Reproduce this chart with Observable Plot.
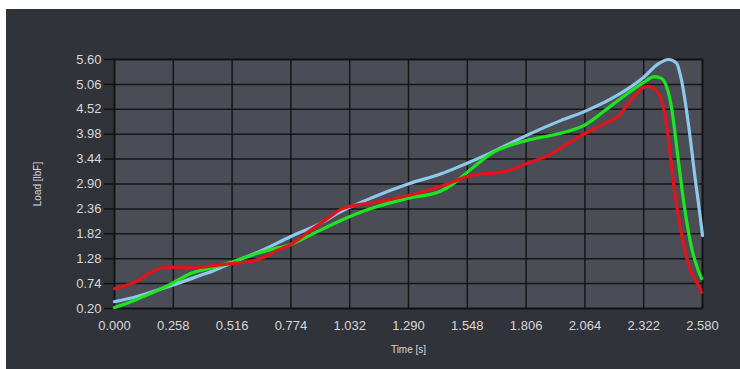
<!DOCTYPE html>
<html>
<head>
<meta charset="utf-8">
<script src="https://cdn.jsdelivr.net/npm/d3@7"></script>
<script src="https://cdn.jsdelivr.net/npm/@observablehq/plot@0.6"></script>
<style>
  html, body { margin: 0; padding: 0; background: #ffffff; }
  #wrap { position: relative; width: 740px; height: 369px; overflow: hidden; }
  #panel { position: absolute; left: 6px; top: 9px; width: 734px; height: 360px; background: #30333a; }
  #chart { position: absolute; left: 0; top: 0; }
</style>
</head>
<body>
<div id="wrap"><div id="panel"></div><div id="chart"></div></div>
<script>
// Tick values
const xTicks = [0, 0.258, 0.516, 0.774, 1.032, 1.290, 1.548, 1.806, 2.064, 2.322, 2.580];
const yTicks = [0.20, 0.74, 1.28, 1.82, 2.36, 2.90, 3.44, 3.98, 4.52, 5.06, 5.60];

// Series: time [s] and load [lbF]
const blueT = [0, 0.084, 0.251, 0.378, 0.435, 0.510, 0.642, 0.774, 0.905, 0.993, 1.138, 1.288, 1.433, 1.547, 1.653, 1.806, 1.960, 2.061, 2.180, 2.321, 2.387, 2.431, 2.466, 2.488, 2.518, 2.545, 2.576, 2.580];
const blueV = [0.35, 0.44, 0.70, 0.92, 1.02, 1.18, 1.45, 1.76, 2.05, 2.30, 2.62, 2.90, 3.12, 3.35, 3.58, 3.95, 4.28, 4.47, 4.75, 5.21, 5.51, 5.60, 5.52, 5.15, 4.21, 3.13, 1.95, 1.78];

const greenT = [0, 0.084, 0.251, 0.334, 0.435, 0.510, 0.567, 0.672, 0.774, 0.883, 0.993, 1.138, 1.288, 1.433, 1.490, 1.547, 1.653, 1.806, 1.947, 2.061, 2.180, 2.321, 2.369, 2.400, 2.444, 2.474, 2.501, 2.532, 2.562, 2.576];
const greenV = [0.22, 0.37, 0.74, 0.96, 1.09, 1.20, 1.30, 1.46, 1.59, 1.85, 2.11, 2.39, 2.59, 2.75, 2.92, 3.15, 3.56, 3.84, 3.99, 4.17, 4.60, 5.10, 5.23, 5.19, 4.56, 3.41, 2.39, 1.52, 1.02, 0.85];

const redT = [0, 0.084, 0.202, 0.251, 0.365, 0.435, 0.523, 0.598, 0.672, 0.708, 0.774, 0.861, 0.949, 0.993, 1.138, 1.288, 1.433, 1.547, 1.727, 1.806, 1.903, 1.960, 2.061, 2.149, 2.215, 2.255, 2.321, 2.343, 2.387, 2.409, 2.431, 2.457, 2.488, 2.523, 2.562, 2.576];
const redV = [0.63, 0.76, 1.07, 1.09, 1.09, 1.13, 1.18, 1.22, 1.35, 1.45, 1.59, 1.90, 2.20, 2.35, 2.50, 2.65, 2.85, 3.06, 3.19, 3.34, 3.52, 3.69, 3.99, 4.21, 4.39, 4.65, 4.99, 5.02, 4.86, 4.56, 3.84, 2.76, 1.82, 1.09, 0.70, 0.55];

const toRows = (T, V) => T.map((t, i) => ({t, v: V[i]}));
const blue = toRows(blueT, blueV);
const green = toRows(greenT, greenV);
const red = toRows(redT, redV);

const lineOpts = {x: "t", y: "v", curve: "monotone-x", strokeWidth: 3.2, strokeLinejoin: "round", strokeLinecap: "round"};

const chart = Plot.plot({
  width: 740,
  height: 369,
  marginLeft: 114,
  marginRight: 38,
  marginTop: 59,
  marginBottom: 61,
  style: {background: "transparent", fontFamily: "'Liberation Sans', Arial, sans-serif", overflow: "visible"},
  x: {domain: [0, 2.58]},
  y: {domain: [0.2, 5.6]},
  marks: [
    Plot.frame({fill: "#4a4d55", stroke: "none"}),
    Plot.gridX(xTicks, {stroke: "#111", strokeOpacity: 0.9, strokeWidth: 1.5}),
    Plot.gridY(yTicks, {stroke: "#111", strokeOpacity: 0.9, strokeWidth: 1.5}),
    Plot.frame({stroke: "#111", strokeWidth: 1.5}),
    Plot.axisY(yTicks, {
      tickFormat: d3.format(".2f"), tickSize: 10, tickPadding: 3, stroke: "#111", strokeWidth: 1.5, strokeOpacity: 1,
      fill: "#d8d8d8", fontSize: 13,
      label: "Load [lbF]", labelAnchor: "center", labelArrow: "none", labelOffset: 81
    }),
    Plot.axisX(xTicks, {
      tickFormat: d3.format(".3f"), tickSize: 0, tickPadding: 12,
      fill: "#d8d8d8", fontSize: 13,
      label: "Time [s]", labelAnchor: "center", labelArrow: "none", labelOffset: 44
    }),
    Plot.line(blue, {...lineOpts, stroke: "#8ec8ec"}),
    Plot.line(green, {...lineOpts, stroke: "#1ee61e"}),
    Plot.line(red, {...lineOpts, stroke: "#e4121a"})
  ]
});
document.getElementById("chart").appendChild(chart);
// axis titles are smaller than the tick labels
chart.querySelectorAll("g[aria-label='y-axis label'] text, g[aria-label='x-axis label'] text").forEach(t => t.setAttribute("font-size", "10"));
</script>
</body>
</html>
